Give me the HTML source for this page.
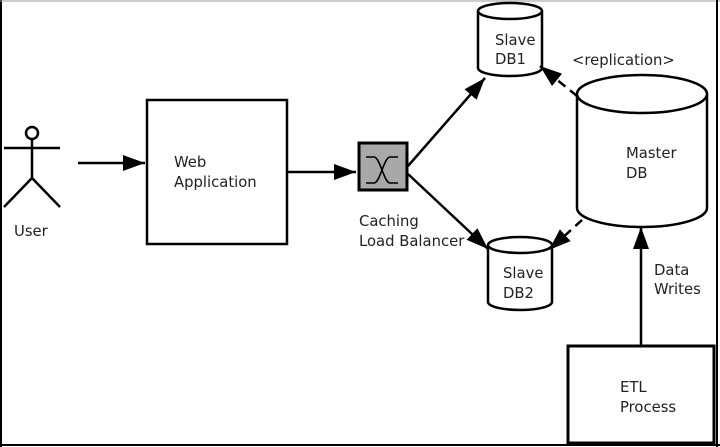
<!DOCTYPE html>
<html><head><meta charset="utf-8"><style>
html,body{margin:0;padding:0;background:#fff}
svg{display:block}
text{font-family:"DejaVu Sans","Liberation Sans",sans-serif;font-size:14.8px;fill:#222}
</style></head><body>
<svg width="720" height="447" viewBox="0 0 720 447">
<defs>
<marker id="b" markerWidth="22" markerHeight="16" refX="22" refY="8" orient="auto" markerUnits="userSpaceOnUse"><path d="M0,0 L22,8 L0,16 z" fill="#000"/></marker>
</defs>
<rect x="0" y="0" width="720" height="447" fill="#fff"/>
<line x1="1" y1="0" x2="1" y2="447" stroke="#000" stroke-width="2"/>
<line x1="0" y1="1" x2="720" y2="1" stroke="#999" stroke-width="1"/>
<line x1="717" y1="0" x2="717" y2="447" stroke="#000" stroke-width="2"/>
<line x1="0" y1="445" x2="720" y2="445" stroke="#000" stroke-width="2"/>
<g stroke="#000" stroke-width="2.5" fill="none">
<circle cx="32" cy="133" r="6" fill="#fff"/>
<line x1="4" y1="148" x2="60" y2="148"/>
<line x1="32" y1="139" x2="32" y2="178"/>
<line x1="32" y1="178" x2="4" y2="207"/>
<line x1="32" y1="178" x2="60" y2="207"/>
<rect x="147" y="100" width="140" height="144" fill="#fff"/>
<rect x="359" y="143" width="48" height="47" fill="#a8a8a8" stroke-width="3"/>
<path d="M366,157 h8 c6,0 10,26 16,26 h8 M366,183 h8 c6,0 10,-26 16,-26 h8" stroke-width="1.6"/>
<rect x="568" y="346" width="146" height="97" fill="#fff" stroke-width="3"/>
<path d="M478,11 v57 a32,8 0 0 0 64,0 v-57" fill="#fff"/>
<ellipse cx="510" cy="11" rx="32" ry="8" fill="#fff"/>
<path d="M488,245 v57 a32,8 0 0 0 64,0 v-57" fill="#fff"/>
<ellipse cx="520" cy="245" rx="32" ry="8" fill="#fff"/>
<path d="M577,94 v114 a65,19 0 0 0 130,0 v-114" fill="#fff"/>
<ellipse cx="642" cy="94" rx="65" ry="19" fill="#fff"/>
<line x1="78" y1="163" x2="145" y2="163" marker-end="url(#b)"/>
<line x1="287" y1="172" x2="356" y2="172" marker-end="url(#b)"/>
<line x1="408" y1="166" x2="485" y2="78" marker-end="url(#b)"/>
<line x1="408" y1="174" x2="488" y2="249" marker-end="url(#b)"/>
<line x1="577" y1="96" x2="540" y2="66" stroke-dasharray="9,6" marker-end="url(#b)"/>
<line x1="582" y1="220" x2="549" y2="250" stroke-dasharray="9,6" marker-end="url(#b)"/>
<line x1="641" y1="346" x2="641" y2="227" marker-end="url(#b)"/>
</g>
<text x="14" y="236">User</text>
<text x="174" y="167">Web</text>
<text x="174" y="187">Application</text>
<text x="359" y="226">Caching</text>
<text x="359" y="246">Load Balancer</text>
<text x="495" y="45">Slave</text>
<text x="495" y="64">DB1</text>
<text x="503" y="278">Slave</text>
<text x="503" y="298">DB2</text>
<text x="572" y="65">&lt;replication&gt;</text>
<text x="626" y="158">Master</text>
<text x="626" y="178">DB</text>
<text x="654" y="275">Data</text>
<text x="654" y="294">Writes</text>
<text x="620" y="392">ETL</text>
<text x="620" y="412">Process</text>
</svg>
</body></html>
